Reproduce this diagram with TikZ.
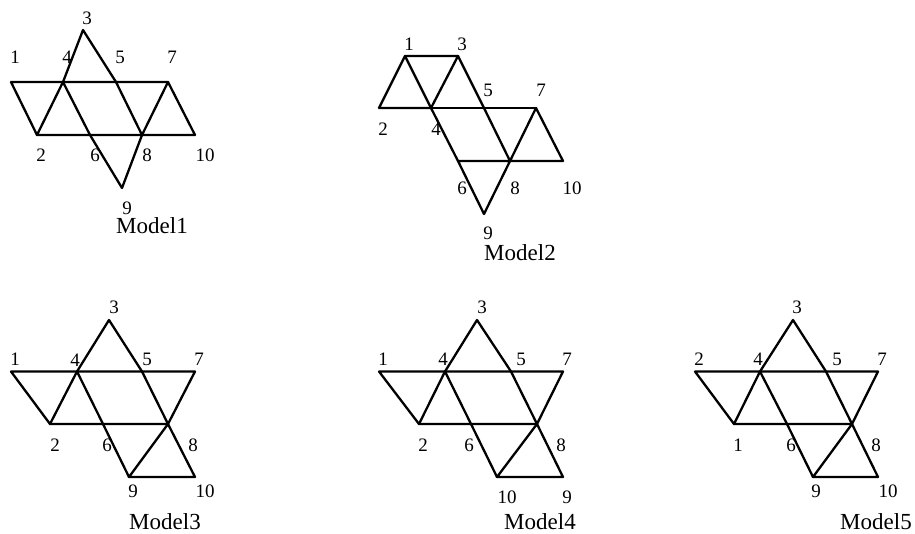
\documentclass[tikz,border=0pt]{standalone}
\usepackage{fontspec}
\setmainfont{Liberation Serif}
\usepackage{tikz}

\begin{document}
\begin{tikzpicture}[x=1pt, y=-1pt,
    edge/.style={line width=2.3pt, line join=round, line cap=round},
    num/.style={font=\fontsize{19}{19}\selectfont, inner sep=0pt},
    title/.style={font=\fontsize{23}{23}\selectfont, inner sep=0pt}]
  \useasboundingbox (0,0) rectangle (915,533);

  % Model1
  \coordinate (a1)  at (11,82);
  \coordinate (a2)  at (37,135);
  \coordinate (a3)  at (83,30);
  \coordinate (a4)  at (63,82);
  \coordinate (a5)  at (116,82);
  \coordinate (a6)  at (90,135);
  \coordinate (a7)  at (168,82);
  \coordinate (a8)  at (142,135);
  \coordinate (a9)  at (122,188);
  \coordinate (a10) at (195,135);
  \draw[edge] (a1) -- (a4) -- (a5) -- (a7) -- (a10) -- (a8) -- (a6) -- (a2) -- (a1);
  \draw[edge] (a2) -- (a4) -- (a3) -- (a5) -- (a8) -- (a7);
  \draw[edge] (a4) -- (a6) -- (a9) -- (a8);
  \node[num] (a1t)  at (15,57)   {1};
  \node[num] (a2t)  at (41,155)  {2};
  \node[num] (a3t)  at (87,18)   {3};
  \node[num] (a4t)  at (67,57)   {4};
  \node[num] (a5t)  at (120,57)  {5};
  \node[num] (a6t)  at (95,155)  {6};
  \node[num] (a7t)  at (172,57)  {7};
  \node[num] (a8t)  at (147,155) {8};
  \node[num] (a9t)  at (127,208) {9};
  \node[num] (a10t) at (205,155) {10};
  \node[title] (am) at (152,226) {Model1};

  % Model2
  \coordinate (b1)  at (405,56);
  \coordinate (b2)  at (379,108);
  \coordinate (b3)  at (458,56);
  \coordinate (b4)  at (431,108);
  \coordinate (b5)  at (484,108);
  \coordinate (b6)  at (458,161);
  \coordinate (b7)  at (536,108);
  \coordinate (b8)  at (510,161);
  \coordinate (b9)  at (484,214);
  \coordinate (b10) at (563,161);
  \draw[edge] (b2) -- (b1) -- (b3) -- (b4) -- (b2);
  \draw[edge] (b1) -- (b4) -- (b6) -- (b9) -- (b8) -- (b6);
  \draw[edge] (b3) -- (b5) -- (b8) -- (b7) -- (b10) -- (b8);
  \draw[edge] (b4) -- (b5) -- (b7);
  \node[num] (b1t)  at (409,44)  {1};
  \node[num] (b2t)  at (383,129) {2};
  \node[num] (b3t)  at (462,44)  {3};
  \node[num] (b4t)  at (436,129) {4};
  \node[num] (b5t)  at (488,90)  {5};
  \node[num] (b6t)  at (462,188) {6};
  \node[num] (b7t)  at (541,90)  {7};
  \node[num] (b8t)  at (515,188) {8};
  \node[num] (b9t)  at (488,233) {9};
  \node[num] (b10t) at (572,188) {10};
  \node[title] (bm) at (520,253) {Model2};

  % Model3
  \coordinate (c1)  at (11,371.5);
  \coordinate (c2)  at (50,424);
  \coordinate (c3)  at (109,320);
  \coordinate (c4)  at (77,371.5);
  \coordinate (c5)  at (142,371.5);
  \coordinate (c6)  at (103,424);
  \coordinate (c7)  at (195,371.5);
  \coordinate (c8)  at (168,424);
  \coordinate (c9)  at (129,477);
  \coordinate (c10) at (195,477);
  \draw[edge] (c1) -- (c4) -- (c5) -- (c7) -- (c8) -- (c6) -- (c2) -- (c1);
  \draw[edge] (c2) -- (c4) -- (c3) -- (c5) -- (c8) -- (c10) -- (c9) -- (c8);
  \draw[edge] (c4) -- (c6) -- (c9);
  \node[num] (c1t)  at (15,359)  {1};
  \node[num] (c2t)  at (55,445)  {2};
  \node[num] (c3t)  at (114,307) {3};
  \node[num] (c4t)  at (75,360)  {4};
  \node[num] (c5t)  at (147,359) {5};
  \node[num] (c6t)  at (107,445) {6};
  \node[num] (c7t)  at (199,359) {7};
  \node[num] (c8t)  at (193,445) {8};
  \node[num] (c9t)  at (133,491) {9};
  \node[num] (c10t) at (205,491) {10};
  \node[title] (cm) at (165,522) {Model3};

  % Model4
  \coordinate (d1)  at (379,371.5);
  \coordinate (d2)  at (419,424);
  \coordinate (d3)  at (477,320);
  \coordinate (d4)  at (445,371.5);
  \coordinate (d5)  at (511,371.5);
  \coordinate (d6)  at (471,424);
  \coordinate (d7)  at (563,371.5);
  \coordinate (d8)  at (537,424);
  \coordinate (d9)  at (563,477);
  \coordinate (d10) at (497,477);
  \draw[edge] (d1) -- (d4) -- (d5) -- (d7) -- (d8) -- (d6) -- (d2) -- (d1);
  \draw[edge] (d2) -- (d4) -- (d3) -- (d5) -- (d8) -- (d9) -- (d10) -- (d8);
  \draw[edge] (d4) -- (d6) -- (d10);
  \node[num] (d1t)  at (383,359) {1};
  \node[num] (d2t)  at (423,445) {2};
  \node[num] (d3t)  at (482,307) {3};
  \node[num] (d4t)  at (443,359) {4};
  \node[num] (d5t)  at (521,359) {5};
  \node[num] (d6t)  at (469,445) {6};
  \node[num] (d7t)  at (567,359) {7};
  \node[num] (d8t)  at (561,445) {8};
  \node[num] (d9t)  at (567,497) {9};
  \node[num] (d10t) at (507,497) {10};
  \node[title] (dm) at (540,522) {Model4};

  % Model5
  \coordinate (e1)  at (734,424);
  \coordinate (e2)  at (695,371.5);
  \coordinate (e3)  at (793,320);
  \coordinate (e4)  at (760,371.5);
  \coordinate (e5)  at (826,371.5);
  \coordinate (e6)  at (787,424);
  \coordinate (e7)  at (878,371.5);
  \coordinate (e8)  at (852,424);
  \coordinate (e9)  at (813,477);
  \coordinate (e10) at (878,477);
  \draw[edge] (e2) -- (e4) -- (e5) -- (e7) -- (e8) -- (e6) -- (e1) -- (e2);
  \draw[edge] (e1) -- (e4) -- (e3) -- (e5) -- (e8) -- (e10) -- (e9) -- (e8);
  \draw[edge] (e4) -- (e6) -- (e9);
  \node[num] (e1t)  at (738,445) {1};
  \node[num] (e2t)  at (699,359) {2};
  \node[num] (e3t)  at (797,307) {3};
  \node[num] (e4t)  at (758,359) {4};
  \node[num] (e5t)  at (837,359) {5};
  \node[num] (e6t)  at (791,445) {6};
  \node[num] (e7t)  at (882,359) {7};
  \node[num] (e8t)  at (876,445) {8};
  \node[num] (e9t)  at (816,491) {9};
  \node[num] (e10t) at (888,491) {10};
  \node[title] (em) at (876,522) {Model5};
\end{tikzpicture}
\end{document}
